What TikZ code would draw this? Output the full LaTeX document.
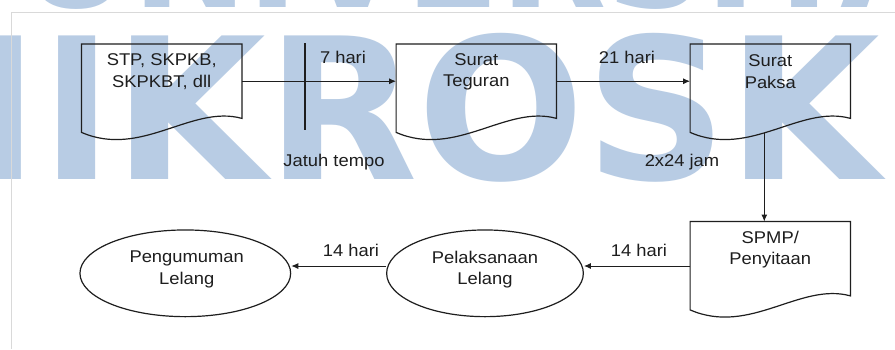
\documentclass[tikz,border=0pt]{standalone}
\usepackage{fontspec}
\setmainfont{Liberation Sans}[FakeStretch=1.08]
\newfontfamily\wmfont{DejaVu Sans}
\usetikzlibrary{arrows.meta,calc,shapes.geometric}
\definecolor{wmblue}{RGB}{184,204,228}
\definecolor{framegray}{RGB}{217,217,217}
\definecolor{ink}{RGB}{30,30,30}
\newcommand{\drawdoc}[1]{%
  \draw[docline] (#1.north west) -- (#1.north east) -- (#1.south east)
    .. controls ($(#1.south west)+(110,-14)$) and ($(#1.south west)+(60,40)$) .. ($(#1.south west)+(0,14)$) -- cycle;}
\begin{document}
\begin{tikzpicture}[x=1pt,y=-1pt,
  docline/.style={draw=ink, line width=1.2pt},
  docbox/.style={minimum width=160pt, minimum height=74pt, inner sep=0pt},
  oval/.style={ellipse, draw=ink, line width=1.2pt, inner sep=0pt},
  txt/.style={align=center, inner sep=0pt, font=\fontsize{17}{21.7}\selectfont, text=ink},
  lbl/.style={inner sep=0pt, font=\fontsize{17}{20}\selectfont, text=ink},
  arr/.style={draw=ink, line width=1pt, -{Latex[length=7pt,width=6pt]}},
  wm/.style={inner sep=0pt, text=wmblue, font=\wmfont\bfseries\fontsize{197}{197}\selectfont},
  wmtop/.style={inner sep=0pt, text=wmblue, font=\wmfont\bfseries\fontsize{138}{138}\selectfont}]
\useasboundingbox (0,0) rectangle (895,349);
\fill[white] (0,0) rectangle (895,349);
% watermark
\begin{scope}
  \clip (0,0) rectangle (895,349);
  \node[wm, anchor=base east] (wmM) at (40,179) {M};
  \node[wm, anchor=base west] (wmB) at (40,179) {IKROSKIL};
  \node[wmtop, anchor=base west] (wmT) at (20,7) {UNIVERSITAS};
\end{scope}
% page frame
\draw[framegray, line width=0.8pt] (895,12.7) -- (11.7,12.7) -- (11.7,349);
% documents
\node[docbox] (d1) at (161.7,81.2) {};
\node[docbox] (d2) at (476.3,81.2) {};
\node[docbox] (d3) at (770.3,81.2) {};
\node[docbox] (d4) at (770.3,258.7) {};
\drawdoc{d1}
\drawdoc{d2}
\drawdoc{d3}
\drawdoc{d4}
\node[txt] (t1) at (161.7,71.8) {STP, SKPKB,\\SKPKBT, dll};
\node[txt] (t2) at (476.3,71.8) {Surat\\Teguran};
\node[txt] (t3) at (770.3,71.8) {Surat\\Paksa};
\node[txt] (t4) at (770.3,249.5) {SPMP/\\Penyitaan};
% ellipses
\node[oval, minimum width=210.7pt, minimum height=86.7pt] (e1) at (185.3,273.3) {};
\node[oval, minimum width=196.7pt, minimum height=86.7pt] (e2) at (485,273.3) {};
\node[txt] (t5) at (186.7,269.5) {Pengumuman\\Lelang};
\node[txt] (t6) at (485,269.5) {Pelaksanaan\\Lelang};
% connectors
\draw[arr] (d1.east) -- (d2.west);
\draw[arr] (d2.east) -- (d3.west);
\coordinate (v1) at ($(d4.north)+(-6,0)$);
\coordinate (v0) at ($(v1 |- d3.south)+(0,14.5)$);
\draw[arr] (v0) -- (v1);
\coordinate (a3) at ($(d4.west)+(0,7.3)$);
\draw[arr] (a3) -- (a3 -| e2.east);
\draw[arr] (a3 -| e2.west) -- (a3 -| e1.east);
% due-date mark
\coordinate (m1) at (305,43.3);
\coordinate (m2) at (305,130);
\draw[ink, line width=1.1pt] (m1) -- (m2);
% labels
\node[lbl] (l1) at (343,57) {7 hari};
\node[lbl] (l2) at (334,162.5) {Jatuh tempo};
\node[lbl] (l3) at (627,57) {21 hari};
\node[lbl] (l4) at (682,161.8) {2x24 jam};
\node[lbl] (l5) at (351,250) {14 hari};
\node[lbl] (l6) at (639,250) {14 hari};
\end{tikzpicture}
\end{document}
